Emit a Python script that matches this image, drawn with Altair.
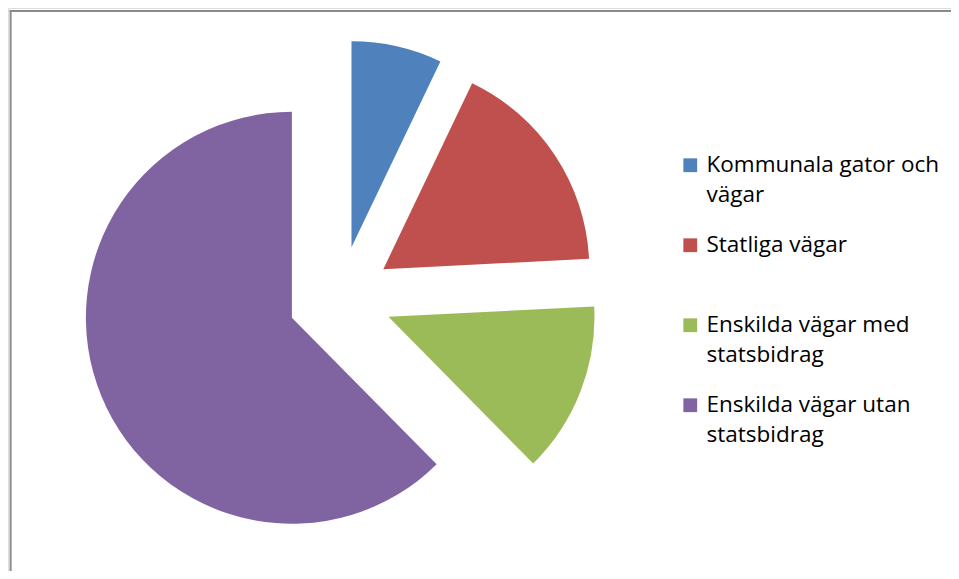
import json
import math
import altair as alt
import pandas as pd

# ---- data ----
categories = [
    "Kommunala gator och vägar",
    "Statliga vägar",
    "Enskilda vägar med statsbidrag",
    "Enskilda vägar utan statsbidrag",
]
shares = [7.1, 17.1, 13.4, 62.4]
colors = ["#4F81BD", "#C0504D", "#9BBB59", "#8064A2"]
legend_lines = [
    ["Kommunala gator och", "vägar"],
    ["Statliga vägar", ""],
    ["Enskilda vägar med", "statsbidrag"],
    ["Enskilda vägar utan", "statsbidrag"],
]

# ---- layout ----
W, H = 943, 563
CX, CY = 332, 290      # pie centre (px)
R = 206                # pie radius (px)
EXPLODE = 52           # explosion distance (px)

df = pd.DataFrame({"category": categories, "share": shares, "order": list(range(len(categories)))})

label_expr = ""
for cat, lines in zip(categories, legend_lines):
    label_expr += f"datum.label == {json.dumps(cat)} ? {json.dumps(lines)} : "
label_expr += "datum.label"

pie = (
    alt.Chart(df)
    .transform_joinaggregate(total="sum(share)")
    .transform_window(cum="sum(share)", sort=[alt.SortField("order")], frame=[None, 0])
    .transform_calculate(
        f0="(datum.cum - datum.share) / datum.total",
        f1="datum.cum / datum.total",
    )
    .transform_calculate(
        px=f"{CX} + {EXPLODE} * sin(PI * (datum.f0 + datum.f1))",
        py=f"{CY} - {EXPLODE} * cos(PI * (datum.f0 + datum.f1))",
    )
    .mark_arc(radius=R, strokeWidth=0)
    .encode(
        theta=alt.Theta("f0:Q", scale=alt.Scale(domain=[0, 1], range=[0, 2 * math.pi]), stack=None),
        theta2="f1:Q",
        x=alt.X("px:Q", scale=None, axis=None, stack=None),
        y=alt.Y("py:Q", scale=None, axis=None, stack=None),
        color=alt.Color(
            "category:N",
            scale=alt.Scale(domain=categories, range=colors),
            sort=categories,
            legend=alt.Legend(
                title=None,
                orient="none",
                legendX=671,
                legendY=146,
                direction="vertical",
                symbolType="square",
                symbolSize=190,
                symbolStrokeWidth=0,
                symbolOpacity=1,
                labelFont="Open Sans",
                labelFontSize=22.5,
                labelColor="#000000",
                labelLimit=400,
                labelOffset=5,
                labelBaseline="middle",
                labelExpr=label_expr,
                rowPadding=27,
                padding=0,
            ),
        ),
    )
)

border = alt.Chart(pd.DataFrame({"k": [0]}))
left_rule = border.mark_rule(color="#8a8a8a", strokeWidth=2).encode(
    x=alt.value(2.6), y=alt.value(2), y2=alt.value(H)
)
top_rule = border.mark_rule(color="#8a8a8a", strokeWidth=2).encode(
    y=alt.value(3), x=alt.value(1.6), x2=alt.value(W)
)

chart = (
    alt.layer(pie, left_rule, top_rule)
    .properties(width=W, height=H, padding=0, autosize="none")
    .configure_view(stroke=None)
    .configure(style={"guide-label": {"lineHeight": 30}})
)

chart.save("out.html", embed_options={"renderer": "svg", "actions": False})
